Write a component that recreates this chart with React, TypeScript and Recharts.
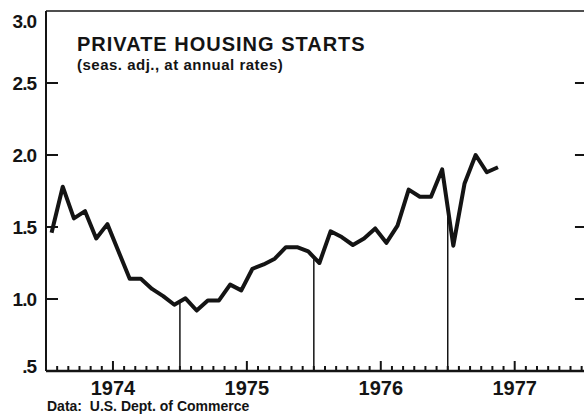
import { LineChart, Line, XAxis, YAxis, ReferenceLine } from "recharts";

// private housing starts, millions, seasonally adjusted annual rate (monthly)
const starts1974 = [1.46, 1.78, 1.56, 1.61, 1.42, 1.52, 1.33, 1.14, 1.14, 1.07, 1.02, 0.96];
const starts1975 = [1.005, 0.92, 0.99, 0.99, 1.1, 1.06, 1.21, 1.24, 1.28, 1.36, 1.36, 1.33];
const starts1976 = [1.25, 1.47, 1.43, 1.375, 1.42, 1.49, 1.39, 1.51, 1.76, 1.71, 1.71, 1.9];
const starts1977 = [1.37, 1.8, 2.0, 1.88, 1.915];

const yearLabels = ["1974", "1975", "1976", "1977"];
const yTicks = [0.5, 1, 1.5, 2, 2.5, 3];
const yTickLabels = [".5", "1.0", "1.5", "2.0", "2.5", "3.0"];
const monthTicks = Array.from({ length: 49 }, (_, i) => i);
const yearBreaks = [12, 24, 36];

const allStarts = [...starts1974, ...starts1975, ...starts1976, ...starts1977];
const data = allStarts.map((v, i) => ({ m: i + 0.5, starts: v }));

const INK = "#141414";

function MonthTick(props: any) {
  const { x, y, payload } = props;
  const v = payload.value as number;
  if (v <= 0) return <g />;
  const isMid = v % 12 === 6;
  return (
    <g>
      <line x1={x} x2={x} y1={y} y2={y - (isMid ? 10 : 5)} stroke={INK} strokeWidth={2} />
      {isMid && (
        <text
          x={x}
          y={y + 24}
          textAnchor="middle"
          fontFamily="'Liberation Sans', Arial, sans-serif"
          fontWeight="bold"
          fontSize={20}
          fill={INK}
        >
          {yearLabels[(v - 6) / 12]}
        </text>
      )}
    </g>
  );
}

function StartsTick(props: any) {
  const { x, y, payload } = props;
  const v = payload.value as number;
  const idx = yTicks.indexOf(v);
  const dy = v === 3 ? 17 : v === 0.5 ? 2 : 7;
  return (
    <g>
      {v > 0.5 && v < 3 && <line x1={x} x2={x + 12} y1={y} y2={y} stroke={INK} strokeWidth={2} />}
      <text
        x={x - 10}
        y={y + dy}
        textAnchor="end"
        fontFamily="'Liberation Sans', Arial, sans-serif"
        fontWeight="bold"
        fontSize={19}
        letterSpacing={-1}
        fill={INK}
      >
        {yTickLabels[idx]}
      </text>
    </g>
  );
}

export default function App() {
  return (
    <div
      style={{
        position: "absolute",
        left: 0,
        top: 0,
        width: 584,
        height: 416,
        overflow: "hidden",
        background: "#fff",
      }}
    >
      <LineChart width={600} height={416} data={data} margin={{ top: 11, right: 15, bottom: 0, left: 0 }}>
        <XAxis
          type="number"
          dataKey="m"
          domain={[0, 48.3]}
          ticks={monthTicks}
          interval={0}
          allowDataOverflow
          height={45}
          tickSize={0}
          tickMargin={0}
          tickLine={false}
          axisLine={{ stroke: INK, strokeWidth: 2.5 }}
          tick={<MonthTick />}
        />
        <YAxis
          type="number"
          domain={[0.5, 3]}
          ticks={yTicks}
          interval={0}
          allowDataOverflow
          width={46}
          tickSize={0}
          tickMargin={0}
          tickLine={false}
          axisLine={{ stroke: INK, strokeWidth: 2 }}
          tick={<StartsTick />}
        />
        <ReferenceLine y={3} stroke={INK} strokeWidth={1.5} />
        {yTicks
          .filter((v) => v > 0.5 && v < 3)
          .map((v) => (
            <ReferenceLine
              key={v}
              segment={[
                { x: 47.4, y: v },
                { x: 48.3, y: v },
              ]}
              stroke={INK}
              strokeWidth={2}
            />
          ))}
        {yearBreaks.map((b) => (
          <ReferenceLine
            key={b}
            segment={[
              { x: b, y: 0.5 },
              { x: b, y: (allStarts[b - 1] + allStarts[b]) / 2 },
            ]}
            stroke={INK}
            strokeWidth={1.5}
          />
        ))}
        <Line
          type="linear"
          dataKey="starts"
          stroke={INK}
          strokeWidth={4}
          strokeLinejoin="round"
          dot={false}
          isAnimationActive={false}
        />
      </LineChart>
      <div
        style={{
          position: "absolute",
          left: 77,
          top: 34,
          fontFamily: "'Liberation Sans', Arial, sans-serif",
          fontWeight: "bold",
          fontSize: 20,
          lineHeight: "20px",
          letterSpacing: 1,
          color: INK,
          whiteSpace: "nowrap",
        }}
      >
        PRIVATE HOUSING STARTS
      </div>
      <div
        style={{
          position: "absolute",
          left: 77,
          top: 57,
          fontFamily: "'Liberation Sans', Arial, sans-serif",
          fontWeight: "bold",
          fontSize: 15,
          lineHeight: "15px",
          letterSpacing: 0.5,
          color: INK,
          whiteSpace: "nowrap",
        }}
      >
        (seas. adj., at annual rates)
      </div>
      <div
        style={{
          position: "absolute",
          left: 47,
          top: 399,
          fontFamily: "'Liberation Sans Narrow', 'Liberation Sans', Arial, sans-serif",
          fontWeight: "bold",
          fontSize: 14,
          lineHeight: "14px",
          color: INK,
          whiteSpace: "pre",
        }}
      >
        {"Data:  U.S. Dept. of Commerce"}
      </div>
    </div>
  );
}
